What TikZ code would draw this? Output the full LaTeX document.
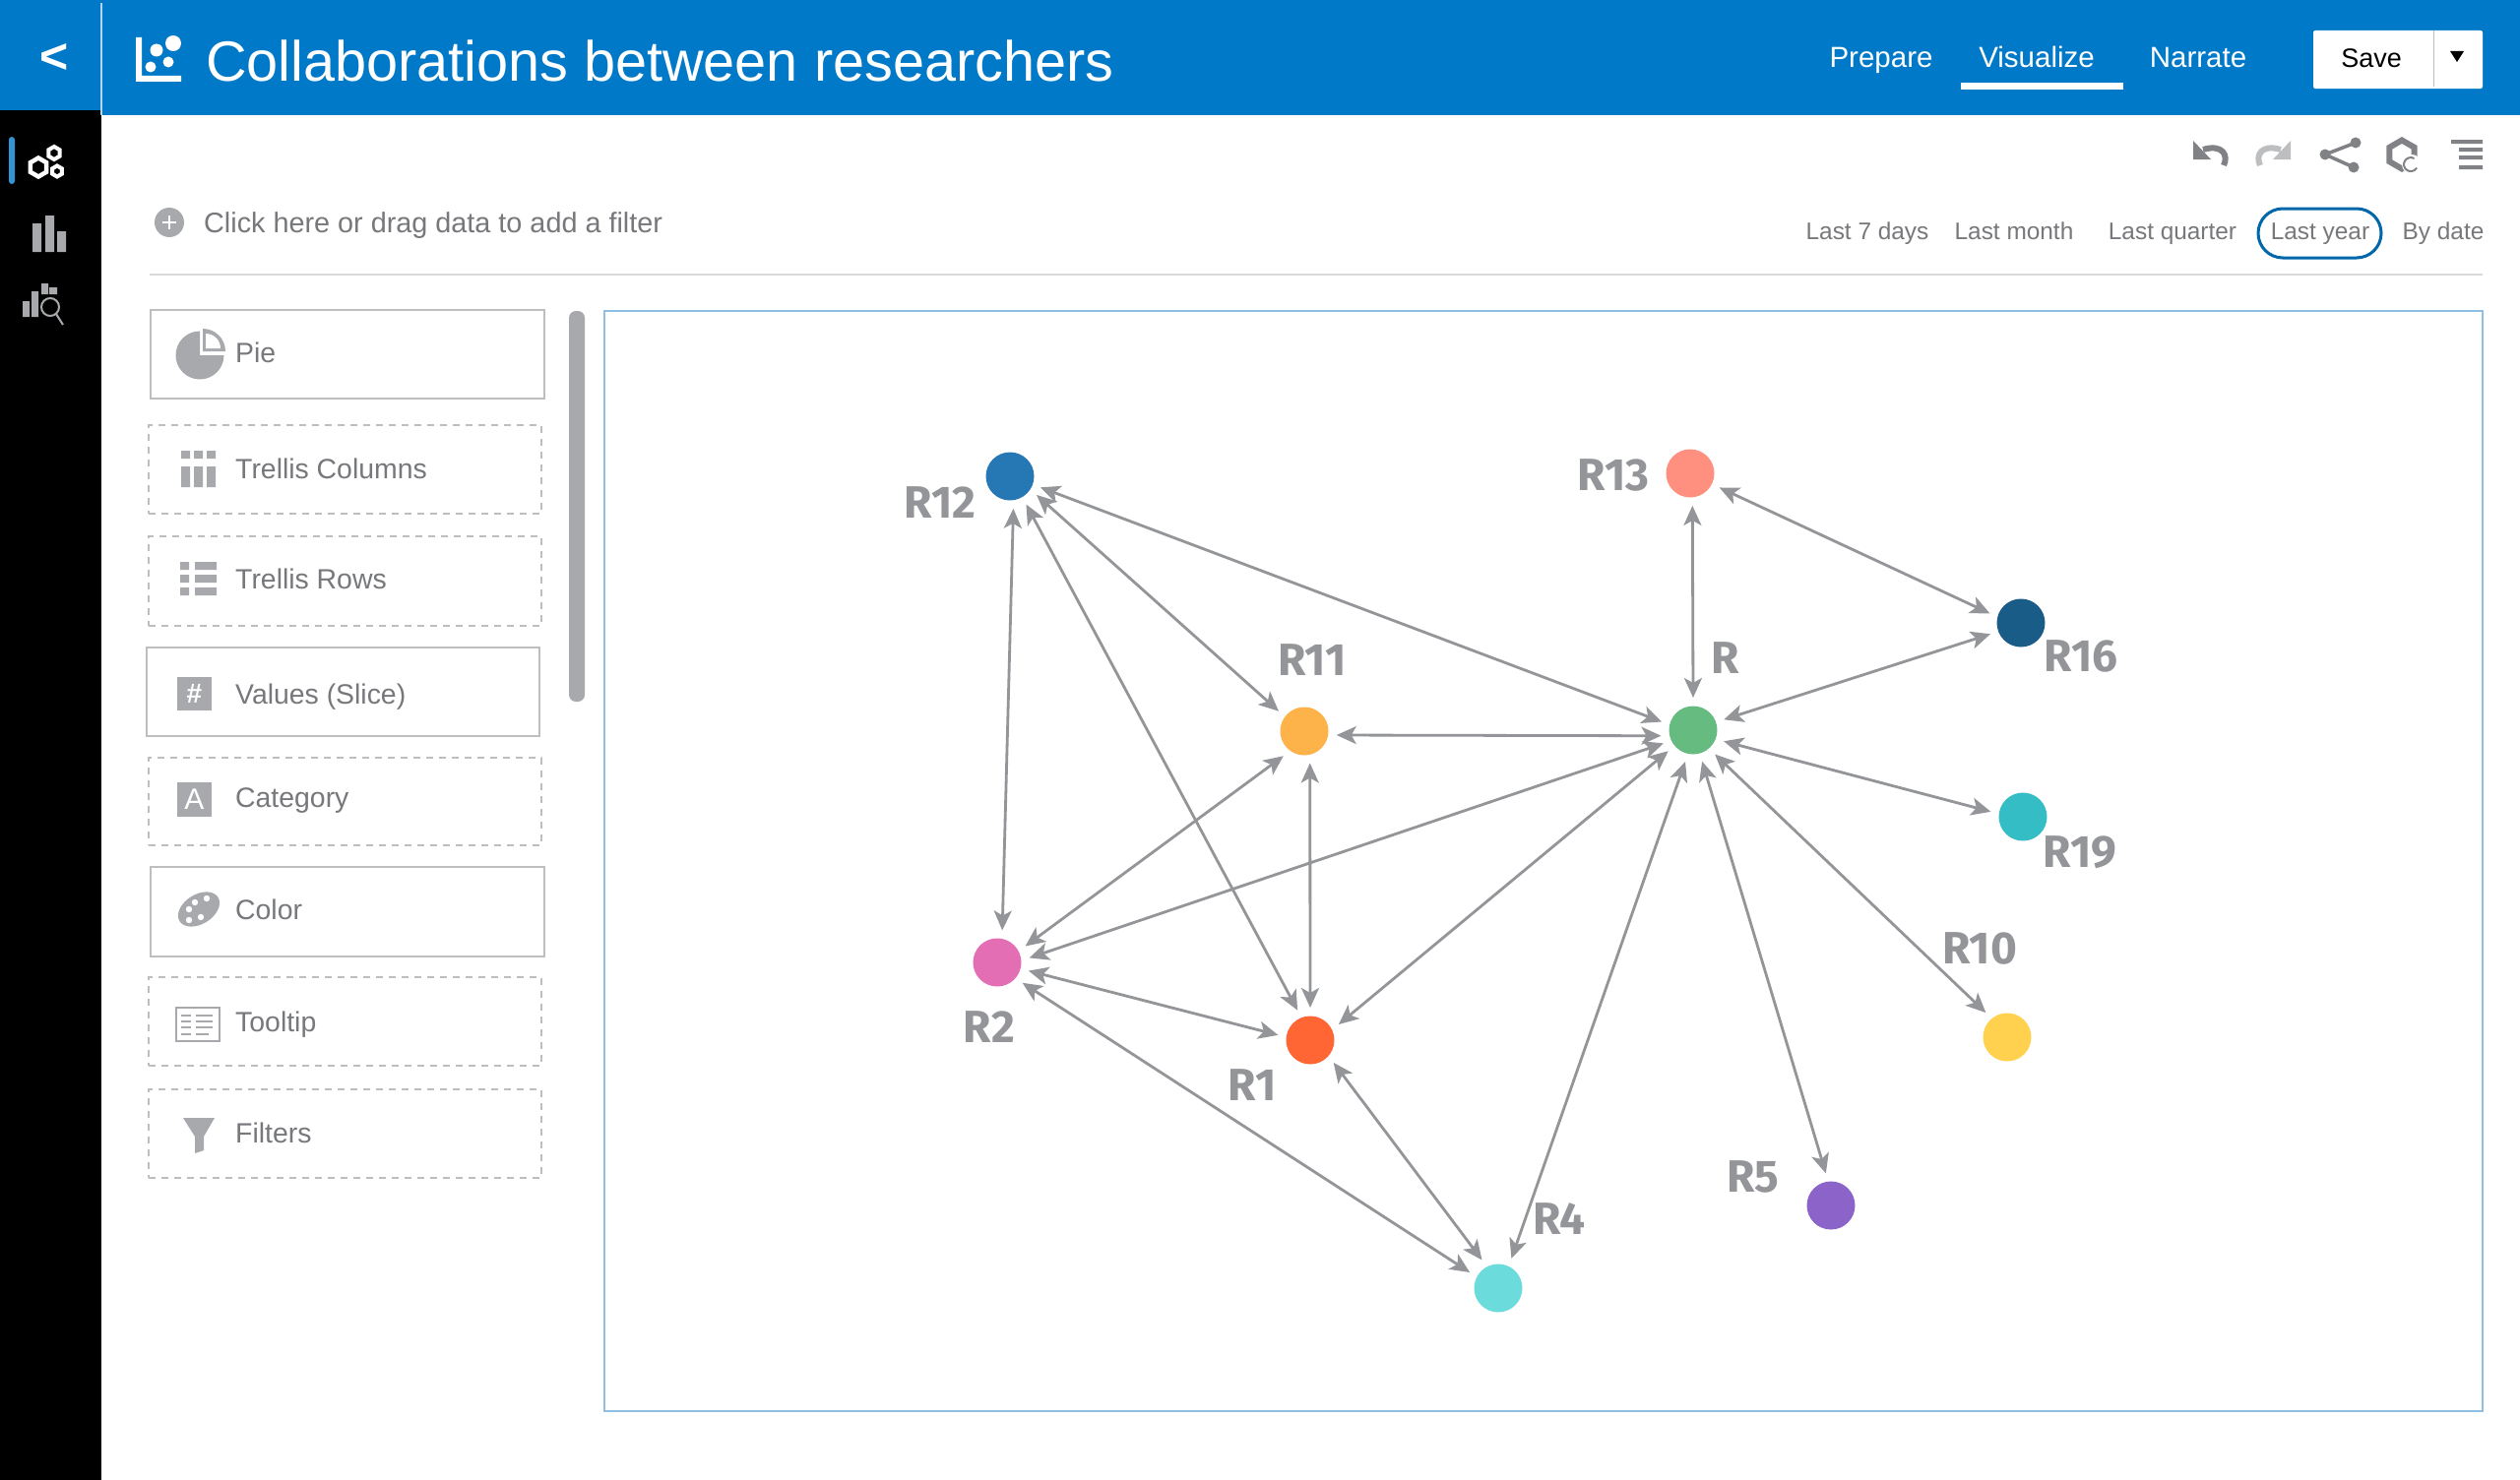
\documentclass[tikz,border=0pt]{standalone}
\usepackage{fontspec}
\setmainfont{Liberation Sans}
\newfontfamily\labfont{Fira Sans}
\usetikzlibrary{arrows.meta,shapes.geometric}
\definecolor{barblue}{HTML}{0079C8}
\definecolor{inkgrey}{HTML}{77787B}
\definecolor{icongrey}{HTML}{A7A9AC}
\definecolor{toolgrey}{HTML}{808285}
\definecolor{edgegrey}{HTML}{939598}
\definecolor{framegrey}{HTML}{BCBEC0}
\definecolor{frameblue}{HTML}{8FBFE3}

\begin{document}
\begin{tikzpicture}[x=1pt,y=-1pt,
   dot/.style={circle,draw=none,inner sep=0pt,minimum size=49pt,outer sep=8.5pt},
   link/.style={draw=edgegrey,line width=2.8pt,{Stealth[length=20pt,width=18pt,inset=5pt]}-{Stealth[length=20pt,width=18pt,inset=5pt]}},
   rlabel/.style={text=edgegrey,font=\labfont\bfseries\fontsize{46}{50}\selectfont,inner sep=0pt},
   slotsolid/.style={draw=framegrey,line width=1.6pt,inner sep=0pt,minimum height=90pt},
   slotdash/.style={draw=framegrey,line width=1.5pt,dash pattern=on 7pt off 6pt,inner sep=0pt,minimum width=399pt,minimum height=90pt},
   slottext/.style={text=inkgrey,font=\fontsize{28.4}{32}\selectfont,anchor=base west,inner sep=0pt},
   navtext/.style={text=white,font=\fontsize{29.5}{34}\selectfont,anchor=base,inner sep=0pt},
   datetext/.style={text=inkgrey,font=\fontsize{24.4}{29}\selectfont,anchor=base,inner sep=0pt},
   hexicon/.style={regular polygon,regular polygon sides=6,shape border rotate=30,inner sep=0pt}
]
\useasboundingbox (0,0) rectangle (2560,1504);
\fill[white] (0,0) rectangle (2560,1504);
% top bar and side bar
\fill[barblue] (0,0) rectangle (2560,117);
\fill[black] (0,112) rectangle (103,1504);
\draw[white!70!barblue,line width=2.5pt] (103,3) -- (103,117);
\node[text=white,font=\bfseries\fontsize{50}{54}\selectfont,inner sep=0pt] (back) at (55,59) {<};
\fill[white] (138,38) rectangle (144,77) (138,77) rectangle (184,83);
\fill[white] (176,44) circle (8) (159,51) circle (6.5) (171,63) circle (5.5) (153,68) circle (5.5);
\node[text=white,font=\fontsize{57.6}{62}\selectfont,anchor=base west,inner sep=0pt] (title) at (209,83) {Collaborations between researchers};
\node[navtext] (prepare) at (1911,69) {Prepare};
\node[navtext] (visualize) at (2069,69) {Visualize};
\node[navtext] (narrate) at (2233,69) {Narrate};
\fill[white] (1992,84) rectangle (2157,91);
\fill[white,rounded corners=2pt] (2350,31) rectangle (2522,90);
\draw[framegrey,line width=1pt] (2472,31) -- (2472,88);
\node[text=black,font=\fontsize{27}{31}\selectfont,anchor=base,inner sep=0pt] (save) at (2409,69) {Save};
\fill[black] (2489,52) -- (2503,52) -- (2496,63) -- cycle;
% side bar icons
\fill[barblue!80!white,rounded corners=3pt] (9,139) rectangle (15,187);
\node[hexicon,draw=white,line width=4.5pt,minimum size=19pt] (hexa) at (39,170) {};
\node[hexicon,draw=white,line width=4pt,minimum size=13pt] (hexb) at (55,155.5) {};
\node[hexicon,draw=white,line width=4pt,minimum size=11pt] (hexc) at (58,174) {};
\fill[icongrey] (33,227) rectangle (42,256) (46,219) rectangle (55,256) (58,235) rectangle (67,256);
\fill[icongrey] (23,306) rectangle (30,322) (32,296) rectangle (39,322) (42,288) rectangle (49,299) (50,292) rectangle (58,299);
\draw[icongrey,line width=2pt] (51,312) circle (9) (57,319) -- (64,330);
% filter row
\fill[icongrey] (172,226) circle (15);
\draw[white,line width=2.5pt] (165,226) -- (179,226) (172,219) -- (172,233);
\node[text=inkgrey,font=\fontsize{28.8}{33}\selectfont,anchor=base west,inner sep=0pt] (filterhint) at (207,236) {Click here or drag data to add a filter};
\draw[gray!30,line width=2pt] (152,279) -- (2522,279);
\foreach \Name/\X/\Txt in {d7/1897/Last 7 days,dm/2046/Last month,dq/2207/Last quarter,dy/2357/Last year,dd/2482/By date}
  \node[datetext] (\Name) at (\X,243) {\Txt};
\draw[barblue!85!black,line width=3pt,rounded corners=25pt] (2294,212) rectangle (2419,262);
% toolbar icons
\fill[toolgrey] (2228,143) -- (2228,162) -- (2246,162) -- cycle;
\draw[toolgrey,line width=6pt] (2238,152) .. controls (2258,146) and (2264,158) .. (2259,168);
\fill[framegrey] (2327,143) -- (2327,162) -- (2309,162) -- cycle;
\draw[framegrey,line width=6pt] (2317,152) .. controls (2297,146) and (2291,158) .. (2296,168);
\draw[toolgrey,line width=3.5pt] (2393,145) -- (2362,157) -- (2391,170);
\fill[toolgrey] (2393,145) circle (5.5) (2362,157) circle (5.5) (2391,170) circle (5.5);
\node[hexicon,draw=toolgrey,line width=6pt,minimum size=29pt] (hexd) at (2440,157) {};
\fill[white] (2450,167) circle (10);
\draw[toolgrey,line width=2pt] (2452.5,161) arc (-60:-330:7);
\fill[toolgrey] (2490,142) rectangle (2522,146) (2498,150) rectangle (2522,154) (2498,158) rectangle (2522,162) (2498,168) rectangle (2522,172);
% field slots
\node[slotsolid,minimum width=400pt] (pie) at (353,360) {};
\node[slotdash] (columns) at (350.5,477) {};
\node[slotdash,minimum height=91pt] (rows) at (350.5,590.5) {};
\node[slotsolid,minimum width=399pt] (values) at (348.5,703) {};
\node[slotdash,minimum height=89pt] (category) at (350.5,814.5) {};
\node[slotsolid,minimum width=400pt,minimum height=91pt] (color) at (353,926.5) {};
\node[slotdash] (tooltip) at (350.5,1038) {};
\node[slotdash] (filters) at (350.5,1152) {};
\foreach \Name/\Y/\Txt in {tpie/368/Pie,tcol/486/Trellis Columns,trow/598/Trellis Rows,tval/715/Values (Slice),tcat/820/Category,tclr/934/Color,ttip/1048/Tooltip,tfil/1161/Filters}
  \node[slottext] (\Name) at (239,\Y) {\Txt};
% slot icons
\fill[icongrey] (203,361) -- (203,336.5) arc (-90:-360:24.5) -- cycle;
\fill[icongrey] (206,357) -- (206,334) arc (-90:0:23) -- cycle;
\fill[white] (209,354) -- (209,339) arc (-90:0:15) -- cycle;
\fill[icongrey] (184,458) rectangle (193,466) (197,458) rectangle (206,466) (210,458) rectangle (219,466);
\fill[icongrey] (184,474) rectangle (193,495) (197,474) rectangle (206,495) (210,474) rectangle (219,495);
\fill[icongrey] (183,571) rectangle (192,579) (198,571) rectangle (220,579);
\fill[icongrey] (183,584) rectangle (192,592) (198,584) rectangle (220,592);
\fill[icongrey] (183,597) rectangle (192,605) (198,597) rectangle (220,605);
\fill[icongrey] (180,688) rectangle (215,722);
\node[text=white,font=\bfseries\fontsize{28}{30}\selectfont,inner sep=0pt] (hash) at (197.5,705) {\#};
\fill[icongrey] (180,795) rectangle (215,830);
\node[text=white,font=\fontsize{30}{32}\selectfont,inner sep=0pt] (capa) at (197.5,812) {A};
\fill[icongrey,rotate around={32:(202,924)}] (202,924) ellipse (23 and 15);
\fill[white] (210,913) circle (3.2) (198,917) circle (3.2) (192,924) circle (3.2) (204,932) circle (3.2) (192,935) circle (3.2);
\draw[icongrey,line width=2pt] (179,1024) rectangle (223,1058);
\draw[icongrey,line width=1.6pt] (184,1032) -- (194,1032) (199,1032) -- (216,1032) (184,1038) -- (194,1038) (199,1038) -- (216,1038) (184,1044) -- (194,1044) (199,1044) -- (216,1044) (184,1051) -- (194,1051) (199,1051) -- (212,1051);
\fill[icongrey] (186,1136) -- (218,1136) -- (207,1155) -- (207,1169) -- (198,1172) -- (198,1155) -- cycle;
% scroll bar and chart frame
\fill[icongrey,rounded corners=7pt] (578,316) rectangle (594,713);
\draw[frameblue,line width=2pt] (614,316) rectangle (2522,1434);
% researchers
\foreach \Name/\Pos/\Col/\LabPos in {
  R12/{1026,484}/2678B5/{955,511},
  R13/{1717,481}/FF907F/{1639,483},
  R16/{2053,633}/1A5C88/{2114,667},
  R/{1720,742}/66BB80/{1753,669},
  R11/{1325,743}/FDB34A/{1333,671},
  R19/{2055,830}/35BDC6/{2113,866},
  R2/{1013,978}/E36EB3/{1005,1044},
  R1/{1331,1057}/FF6633/{1272,1103},
  R10/{2039,1054}/FFD14F/{2011,964},
  R5/{1860,1225}/8B63C9/{1781,1196},
  R4/{1522,1309}/6CDBDC/{1584,1239}}
{
  \definecolor{dotcol}{HTML}{\Col}
  \node[dot,fill=dotcol] (\Name) at (\Pos) {};
  \node[rlabel] (lab\Name) at (\LabPos) {\Name};
}
\foreach \From/\FromAt/\To/\ToAt in {R12/-84/R2/81,R12/-60/R1/113,R12/-35/R11/142,R12/-20/R/165,
  R13/-86/R/90,R13/-26/R16/163,R16/-160/R/19,R11/-7/R/-170,R11/-130/R2/30,R11/-80/R1/90,
  R/-156/R2/8,R/-140/R1/29,R/-20/R19/171,R/-48/R10/131,R/-74/R5/99,R/-104/R4/66,
  R2/-15/R1/171,R2/-39/R4/151,R1/-44/R4/120}
  \draw[link] (\From.\FromAt) -- (\To.\ToAt);
\end{tikzpicture}
\end{document}
